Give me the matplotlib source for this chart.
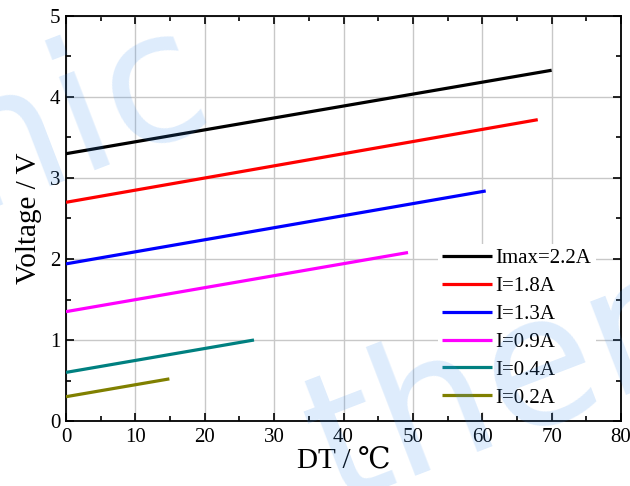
import matplotlib
matplotlib.use("Agg")
import matplotlib.pyplot as plt
from matplotlib.ticker import MultipleLocator

# ---------------------------------------------------------------------------
# Voltage vs. DT for several currents (start and end point of each line)
# ---------------------------------------------------------------------------
labels = ["Imax=2.2A", "I=1.8A", "I=1.3A", "I=0.9A", "I=0.4A", "I=0.2A"]
colors = ["#000000", "#ff0000", "#0000ff", "#ff00ff", "#008080", "#808000"]
dt_start = [0, 0, 0, 0, 0, 0]
dt_end = [70.0, 68.0, 60.5, 49.3, 27.1, 14.9]
v_start = [3.30, 2.70, 1.94, 1.35, 0.60, 0.30]
v_end = [4.33, 3.72, 2.84, 2.08, 1.00, 0.52]

plt.rcParams["font.family"] = ["Liberation Serif", "DejaVu Serif", "DejaVu Sans"]

fig = plt.figure(figsize=(6.3, 4.86), dpi=100)
ax = fig.add_axes([66 / 630, 1 - 421 / 486, 555 / 630, 405 / 486])
ax.set_zorder(1)

for lab, c, x0, x1, y0, y1 in zip(labels, colors, dt_start, dt_end, v_start, v_end):
    ax.plot([x0, x1], [y0, y1], color=c, lw=2.3, label=lab, solid_capstyle="butt", zorder=3)

ax.set_xlim(0, 80)
ax.set_ylim(0, 5)
ax.xaxis.set_major_locator(MultipleLocator(10))
ax.xaxis.set_minor_locator(MultipleLocator(5))
ax.yaxis.set_major_locator(MultipleLocator(1))
ax.yaxis.set_minor_locator(MultipleLocator(0.5))
ax.tick_params(which="both", direction="in", top=True, right=True, labelsize=15, width=1.2)
ax.tick_params(which="major", length=6)
ax.tick_params(which="minor", length=3.5)
ax.tick_params(axis="x", pad=5)
ax.tick_params(axis="y", pad=4)
ax.grid(True, which="major", color="#c8c8c8", lw=1.0, zorder=0)
for s in ax.spines.values():
    s.set_linewidth(1.3)

ax.set_xlabel("DT / \u2103", fontsize=21, labelpad=1)
ax.set_ylabel("Voltage / V", fontsize=21, labelpad=6)

leg = ax.legend(loc="upper left", bbox_to_anchor=(0.652, 0.462), fontsize=15,
                frameon=True, facecolor="white", edgecolor="none", framealpha=1,
                fancybox=False, handlelength=2.4, handletextpad=0.15,
                labelspacing=0.4, borderpad=0.2)
leg.set_zorder(4)

# faint watermark laid over the whole figure
wm = dict(color="#3a8ff0", alpha=0.17, fontsize=130, family="DejaVu Sans",
          rotation=21, rotation_mode="anchor", va="baseline", zorder=5)
fig.text(0.15, 0.665, "nic", ha="center", **wm)
fig.text(0.53, -0.04, "ther", ha="left", **wm)

fig.savefig("out.png", dpi=100)
